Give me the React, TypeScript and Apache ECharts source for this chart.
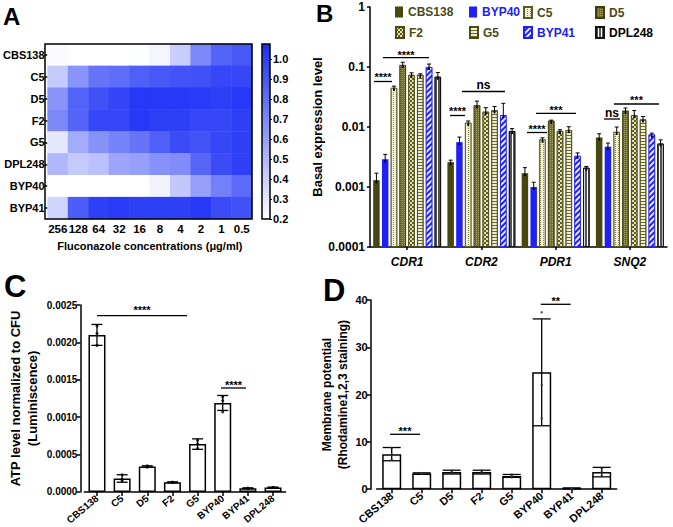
import React, { useEffect, useRef } from 'react';
import * as echarts from 'echarts';

const FONT = '"Liberation Sans", Arial, Helvetica, sans-serif';

// ---------- Panel A: heatmap ----------
const concentrations = ['256', '128', '64', '32', '16', '8', '4', '2', '1', '0.5'];
const heatStrains = ['CBS138', 'C5', 'D5', 'F2', 'G5', 'DPL248', 'BYP40', 'BYP41'];
const growthCBS138 = [0.22, 0.2, 0.2, 0.2, 0.21, 0.24, 0.41, 0.7, 0.85, 0.9];
const growthC5 = [0.42, 0.65, 0.78, 0.81, 0.87, 0.9, 0.92, 0.93, 0.97, 0.97];
const growthD5 = [0.65, 0.85, 0.93, 0.98, 1.03, 1.03, 1.03, 1.02, 1.0, 1.03];
const growthF2 = [0.7, 0.85, 0.97, 0.97, 1.03, 1.0, 1.0, 0.97, 0.97, 1.0];
const growthG5 = [0.3, 0.55, 0.66, 0.72, 0.78, 0.87, 0.95, 0.92, 0.97, 1.0];
const growthDPL248 = [0.5, 0.42, 0.46, 0.58, 0.6, 0.66, 0.68, 0.84, 0.95, 1.0];
const growthBYP40 = [0.2, 0.2, 0.2, 0.2, 0.2, 0.25, 0.43, 0.6, 0.73, 0.82];
const growthBYP41 = [0.38, 0.88, 1.0, 1.02, 1.0, 1.0, 1.0, 1.03, 0.95, 0.93];
const heatRows = [growthCBS138, growthC5, growthD5, growthF2, growthG5, growthDPL248, growthBYP40, growthBYP41];
const colorScaleMin = 0.2;
const colorScaleMax = 1.075;

// ---------- Panel B: basal expression (log scale) ----------
const genes = ['CDR1', 'CDR2', 'PDR1', 'SNQ2'];
const bStrains = ['CBS138', 'BYP40', 'C5', 'D5', 'F2', 'G5', 'BYP41', 'DPL248'];
const exprCBS138 = [0.0013, 0.0026, 0.0017, 0.0067];
const exprBYP40 = [0.0029, 0.0056, 0.001, 0.0047];
const exprC5 = [0.045, 0.0118, 0.0062, 0.0083];
const exprD5 = [0.108, 0.023, 0.0127, 0.0187];
const exprF2 = [0.074, 0.018, 0.0086, 0.0158];
const exprG5 = [0.074, 0.019, 0.0089, 0.0134];
const exprBYP41 = [0.1, 0.0158, 0.0033, 0.0075];
const exprDPL248 = [0.069, 0.0086, 0.0021, 0.0053];
const errCBS138 = [0.0004, 0.0002, 0.0004, 0.001];
const errBYP40 = [0.0006, 0.0012, 0.0002, 0.0007];
const errC5 = [0.003, 0.0008, 0.0004, 0.0017];
const errD5 = [0.012, 0.004, 0.0003, 0.002];
const errF2 = [0.006, 0.003, 0.0004, 0.003];
const errG5 = [0.003, 0.003, 0.0012, 0.0015];
const errBYP41 = [0.012, 0.009, 0.0004, 0.0004];
const errDPL248 = [0.012, 0.0008, 0.0001, 0.0008];
const bValues = [exprCBS138, exprBYP40, exprC5, exprD5, exprF2, exprG5, exprBYP41, exprDPL248];
const bErrors = [errCBS138, errBYP40, errC5, errD5, errF2, errG5, errBYP41, errDPL248];
const logTicks = ['0.0001', '0.001', '0.01', '0.1', '1'];

// ---------- Panels C & D ----------
const strainsCD = ['CBS138', 'C5', 'D5', 'F2', 'G5', 'BYP40', 'BYP41', 'DPL248'];
const atpMean = [0.0021, 0.00018, 0.00034, 0.00013, 0.00064, 0.00119, 0.00005, 0.00006];
const atpSd = [0.00014, 0.00005, 0.00001, 0.000005, 0.00007, 0.0001, 0.000005, 0.000005];
const atpPoints = [
  [0.00222, 0.00196, 0.00212],
  [0.00023, 0.00015, 0.00017],
  [0.00034, 0.00035, 0.00033],
  [0.00013, 0.00013, 0.00013],
  [0.00069, 0.00058, 0.00064],
  [0.00127, 0.00107, 0.00122],
  [0.00005, 0.00005, 0.00005],
  [0.00006, 0.00006, 0.00006],
];
const mpMean = [7.4, 3.3, 3.6, 3.6, 2.8, 24.7, 0.2, 3.6];
const mpSd = [1.4, 0.15, 0.4, 0.4, 0.3, 11.3, 0.05, 1.0];
const mpPoints = [
  [8.7, 6.2, 7.3],
  [3.4, 3.2, 3.3],
  [3.9, 3.3, 3.6],
  [3.9, 3.3, 3.6],
  [3.1, 2.5, 2.8],
  [37.4, 22.0, 15.0],
  [0.2, 0.2, 0.2],
  [4.4, 3.6, 2.8],
];

// ---------- styles ----------
const OLIVE_DARK = '#474711';
const OLIVE_TEXT = '#4b4b14';
const BLUE = '#2020f5';
const HEAT_BLUE = '#1a2ef5';

const bStyles: any[] = [
  { color: OLIVE_DARK },
  { color: BLUE },
  {
    color: '#f1efd9', borderColor: '#5a5a1c', borderWidth: 0.8,
    decal: { symbol: 'rect', symbolSize: 1, color: '#8a8a4a', dashArrayX: [1, 2], dashArrayY: [1, 1] },
  },
  {
    color: '#6e6e2c', borderColor: '#3e3e10', borderWidth: 0.8,
    decal: { symbol: 'rect', symbolSize: 1, color: '#a4a466', dashArrayX: [1, 1], dashArrayY: [1, 1] },
  },
  {
    color: '#e2e0b8', borderColor: '#4a4a14', borderWidth: 0.8,
    decal: { symbol: 'rect', symbolSize: 1, color: '#5e5e1f', dashArrayX: [[2, 2], [0, 2, 2, 0]], dashArrayY: [2, 0] },
  },
  {
    color: '#efedd4', borderColor: '#4a4a14', borderWidth: 0.8,
    decal: { symbol: 'rect', symbolSize: 1, color: '#6a6a26', dashArrayX: [1, 0], dashArrayY: [1, 2] },
  },
  {
    color: BLUE, borderColor: BLUE, borderWidth: 0.8,
    decal: { symbol: 'rect', symbolSize: 1, color: 'rgba(255,255,255,0.9)', dashArrayX: [1, 0], dashArrayY: [2, 2], rotation: -Math.PI / 4 },
  },
  {
    color: '#ffffff', borderColor: '#111111', borderWidth: 1,
    decal: { symbol: 'rect', symbolSize: 1, color: '#555555', dashArrayX: [1.5, 1], dashArrayY: [1, 0] },
  },
];
const legendTextColors = [OLIVE_TEXT, BLUE, OLIVE_TEXT, OLIVE_TEXT, OLIVE_TEXT, OLIVE_TEXT, BLUE, '#000000'];
const legendCols = [395, 469, 523, 595];
const legendRows = [6, 26];

const BAR_W = 6.5;
const BAR_GAP = 0.35;

const blackLine = { show: true, lineStyle: { color: '#000', width: 1.5 } };
const boldLabel = (size: number) => ({ color: '#000', fontWeight: 'bold', fontSize: size, fontFamily: FONT });

function sig(x1: number, x2: number, y: number, text: string, ty: number, fs = 11) {
  return [
    { type: 'line', shape: { x1, y1: y, x2, y2: y }, style: { stroke: '#000', lineWidth: 1.3 }, z: 50 },
    {
      type: 'text', x: (x1 + x2) / 2, y: ty, z: 50,
      style: { text, fill: '#000', font: `bold ${fs}px ${FONT}`, textAlign: 'center', textVerticalAlign: 'middle' },
    },
  ];
}

function errorSeries(xi: number, means: number[], sds: number[], capW: number) {
  return {
    type: 'custom', xAxisIndex: xi, yAxisIndex: xi, z: 5,
    data: means.map((m, k) => [k, m, sds[k]]),
    renderItem: (_p: any, api: any) => {
      const k = api.value(0), m = api.value(1), s = api.value(2);
      const hi = api.coord([k, m + s]);
      const lo = api.coord([k, Math.max(m - s, 0)]);
      const x = hi[0];
      const st = { stroke: '#000', lineWidth: 1.3 };
      return {
        type: 'group', children: [
          { type: 'line', shape: { x1: x, y1: lo[1], x2: x, y2: hi[1] }, style: st },
          { type: 'line', shape: { x1: x - capW / 2, y1: hi[1], x2: x + capW / 2, y2: hi[1] }, style: st },
          { type: 'line', shape: { x1: x - capW / 2, y1: lo[1], x2: x + capW / 2, y2: lo[1] }, style: st },
        ],
      };
    },
  };
}

export default function App() {
  const ref = useRef<HTMLDivElement>(null);
  useEffect(() => {
    document.body.style.margin = '0';
    const chart = echarts.init(ref.current!, null, { renderer: 'svg' });
    const heatData: number[][] = [];
    heatRows.forEach((row, r) => row.forEach((v, c) => heatData.push([c, r, v])));
    const step = BAR_W * (1 + BAR_GAP);

    const bBars = bStrains.map((name, i) => ({
      name, type: 'bar', xAxisIndex: 2, yAxisIndex: 2,
      barWidth: BAR_W, barGap: `${BAR_GAP * 100}%`,
      itemStyle: bStyles[i], data: bValues[i],
    }));
    const bErr = bStrains.map((_n, i) => ({
      type: 'custom', xAxisIndex: 2, yAxisIndex: 2, z: 6,
      data: bValues[i].map((v, k) => [k, v, bErrors[i][k]]),
      renderItem: (_p: any, api: any) => {
        const k = api.value(0), v = api.value(1), e = api.value(2);
        const p0 = api.coord([k, v]);
        const p1 = api.coord([k, v + e]);
        const x = p0[0] + (i - 3.5) * step;
        const st = { stroke: '#000', lineWidth: 1 };
        return {
          type: 'group', children: [
            { type: 'line', shape: { x1: x, y1: p0[1] + 3, x2: x, y2: p1[1] }, style: st },
            { type: 'line', shape: { x1: x - 2, y1: p1[1], x2: x + 2, y2: p1[1] }, style: st },
            { type: 'circle', shape: { cx: x, cy: p0[1] + 2, r: 1.1 }, style: { fill: '#000' } },
          ],
        };
      },
    }));

    const dotsC: number[][] = [];
    atpPoints.forEach((pts, k) => pts.forEach((p) => dotsC.push([k, p])));
    const dotsD: number[][] = [];
    mpPoints.forEach((pts, k) => pts.forEach((p) => dotsD.push([k, p])));

    const option: any = {
      animation: false,
      textStyle: { fontFamily: FONT },
      grid: [
        { left: 45, top: 44, width: 207, height: 175 },
        { left: 262, top: 44, width: 8, height: 175 },
        { left: 370, top: 7, width: 297, height: 240 },
        { left: 84.4, top: 305, width: 201.2, height: 189 },
        { left: 376.7, top: 300, width: 240, height: 195 },
      ],
      visualMap: {
        show: false, seriesIndex: 0, min: colorScaleMin, max: colorScaleMax,
        inRange: { color: ['#ffffff', HEAT_BLUE] },
      },
      xAxis: [
        {
          gridIndex: 0, type: 'category', data: concentrations,
          axisLine: { show: false }, axisTick: { show: false },
          axisLabel: { ...boldLabel(11.5), margin: 4, interval: 0 },
          name: 'Fluconazole concentrations (μg/ml)', nameLocation: 'middle', nameGap: 21,
          nameTextStyle: boldLabel(11),
        },
        { gridIndex: 1, type: 'category', data: [''], show: false },
        {
          gridIndex: 2, type: 'category', data: genes,
          axisLine: blackLine,
          axisTick: { show: true, alignWithLabel: true, length: 3, lineStyle: { color: '#000', width: 1.5 } },
          axisLabel: { ...boldLabel(12), fontStyle: 'italic', margin: 9 },
        },
        {
          gridIndex: 3, type: 'category', data: strainsCD,
          axisLine: blackLine,
          axisTick: { show: true, alignWithLabel: true, length: 4, lineStyle: { color: '#000', width: 1.5 } },
          axisLabel: { ...boldLabel(10), rotate: 40, interval: 0, margin: 5 },
        },
        {
          gridIndex: 4, type: 'category', data: strainsCD,
          axisLine: blackLine,
          axisTick: { show: true, alignWithLabel: true, length: 4, lineStyle: { color: '#000', width: 1.5 } },
          axisLabel: { ...boldLabel(11), rotate: 40, interval: 0, margin: 5 },
        },
      ],
      yAxis: [
        {
          gridIndex: 0, type: 'category', data: heatStrains, inverse: true,
          axisLine: { show: false },
          axisTick: { show: true, alignWithLabel: true, length: 3, lineStyle: { color: '#000', width: 1.5 } },
          axisLabel: { ...boldLabel(11), margin: 3 },
        },
        {
          gridIndex: 1, type: 'value', position: 'right', min: colorScaleMin, max: colorScaleMax, interval: 0.1,
          axisLine: { show: false }, splitLine: { show: false },
          axisTick: { show: true, length: 2, lineStyle: { color: '#000', width: 1.2 } },
          axisLabel: { ...boldLabel(11), margin: 3, showMaxLabel: false, formatter: (v: number) => v.toFixed(1) },
        },
        {
          gridIndex: 2, type: 'log', logBase: 10, min: 0.0001, max: 1, startValue: 0.0001,
          axisLine: blackLine, splitLine: { show: false },
          axisTick: { show: true, length: 3, lineStyle: { color: '#000', width: 1.5 } },
          axisLabel: {
            ...boldLabel(12), margin: 5,
            formatter: (v: number) => logTicks[Math.round(Math.log10(v)) + 4] ?? '',
          },
          name: 'Basal expression level', nameLocation: 'middle', nameGap: 38, nameTextStyle: boldLabel(13),
        },
        {
          gridIndex: 3, type: 'value', min: 0, max: 0.0025, interval: 0.0005, offset: 4,
          axisLine: blackLine, splitLine: { show: false },
          axisTick: { show: true, length: 4, lineStyle: { color: '#000', width: 1.5 } },
          axisLabel: { ...boldLabel(10), margin: 3, formatter: (v: number) => v.toFixed(4) },
          name: 'ATP level normalized to CFU\n(Luminiscence)', nameLocation: 'middle', nameGap: 39,
          nameTextStyle: { ...boldLabel(13), lineHeight: 17 },
        },
        {
          gridIndex: 4, type: 'value', min: 0, max: 40, interval: 10, offset: 6,
          axisLine: blackLine, splitLine: { show: false },
          axisTick: { show: true, length: 4, lineStyle: { color: '#000', width: 1.5 } },
          axisLabel: { ...boldLabel(11), margin: 3 },
          name: 'Membrane potential\n(Rhodamine1,2,3 staining)', nameLocation: 'middle', nameGap: 20,
          nameTextStyle: { ...boldLabel(12), lineHeight: 16 },
        },
      ],
      legend: bStrains.map((name, i) => ({
        data: [{ name, textStyle: { color: legendTextColors[i] } }],
        left: legendCols[i % 4], top: legendRows[Math.floor(i / 4)],
        icon: 'rect', itemWidth: 8, itemHeight: 11, padding: 0, selectedMode: false,
        textStyle: { fontSize: 12, fontWeight: 'bold', fontFamily: FONT },
      })),
      graphic: [
        { type: 'text', x: 3, y: 4, style: { text: 'A', fill: '#000', font: `bold 24px ${FONT}` } },
        { type: 'text', x: 316, y: 1, style: { text: 'B', fill: '#000', font: `bold 24px ${FONT}` } },
        { type: 'text', x: 4, y: 271, style: { text: 'C', fill: '#000', font: `bold 31px ${FONT}` } },
        { type: 'text', x: 323, y: 275, style: { text: 'D', fill: '#000', font: `bold 31px ${FONT}` } },
        {
          type: 'rect', shape: { x: 45, y: 44, width: 207, height: 175 }, z: 100,
          style: { fill: 'none', stroke: '#000', lineWidth: 1.5 },
        },
        {
          type: 'rect', shape: { x: 262, y: 44, width: 8, height: 175 }, z: 100,
          style: {
            fill: { type: 'linear', x: 0, y: 0, x2: 0, y2: 1, colorStops: [{ offset: 0, color: HEAT_BLUE }, { offset: 1, color: '#ffffff' }] },
            stroke: '#000', lineWidth: 1.5,
          },
        },
        ...sig(374, 392, 81.5, '****', 77),
        ...sig(383, 429, 57.7, '****', 54.5),
        ...sig(450, 465, 115.5, '****', 111),
        ...sig(462, 505, 91.5, 'ns', 85, 12),
        ...sig(527, 547, 132.5, '****', 128.5),
        ...sig(536, 576, 113.3, '***', 109.5),
        ...sig(604, 620, 119, 'ns', 112.5, 12),
        ...sig(614, 659, 104, '***', 100),
        ...sig(97, 187, 315.7, '****', 310),
        ...sig(221, 246, 388, '****', 385),
        ...sig(390, 420, 434.3, '***', 431),
        ...sig(540.7, 570.7, 304.3, '**', 301),
      ],
      series: [
        {
          type: 'heatmap', xAxisIndex: 0, yAxisIndex: 0, data: heatData,
          itemStyle: { borderWidth: 0 }, emphasis: { disabled: true },
        },
        ...bBars,
        ...bErr,
        {
          type: 'bar', xAxisIndex: 3, yAxisIndex: 3, barWidth: 17, data: atpMean,
          itemStyle: { color: '#ffffff', borderColor: '#000', borderWidth: 1.5 },
        },
        errorSeries(3, atpMean, atpSd, 11),
        {
          type: 'scatter', xAxisIndex: 3, yAxisIndex: 3, data: dotsC, symbolSize: 3, z: 7,
          itemStyle: { color: '#000' },
        },
        {
          type: 'bar', xAxisIndex: 4, yAxisIndex: 4, barWidth: 19, data: mpMean,
          itemStyle: { color: '#ffffff', borderColor: '#000', borderWidth: 1.5 },
        },
        errorSeries(4, mpMean, mpSd, 18),
        {
          type: 'scatter', xAxisIndex: 4, yAxisIndex: 4, data: dotsD, symbolSize: 2.5, z: 7,
          itemStyle: { color: '#333' },
        },
      ],
    };
    chart.setOption(option);
    return () => chart.dispose();
  }, []);
  return <div ref={ref} style={{ width: 673, height: 527, position: 'absolute', left: 0, top: 0 }} />;
}
